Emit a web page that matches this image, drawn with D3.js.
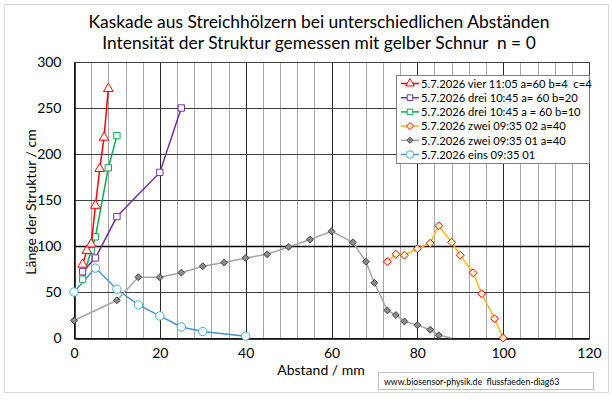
<!DOCTYPE html>
<html>
<head>
<meta charset="utf-8">
<script src="https://cdn.jsdelivr.net/npm/d3@7"></script>
<style>
  body { margin: 0; background: #fff; }
  svg { font-family: Lato, "Liberation Sans", sans-serif; }
</style>
</head>
<body>
<div id="chart"></div>
<script>
// chart data
const titleLines = [
    "Kaskade aus Streichhölzern bei unterschiedlichen Abständen",
    "Intensität der Struktur gemessen mit gelber Schnur  n = 0"
];
const xTicks = [0, 20, 40, 60, 80, 100, 120];
const yTicks = [0, 50, 100, 150, 200, 250, 300];
const seriesNames = [
    "5.7.2026 vier 11:05 a=60 b=4  c=4",
    "5.7.2026 drei 10:45 a= 60 b=20",
    "5.7.2026 drei 10:45 a = 60 b=10",
    "5.7.2026 zwei 09:35 02 a=40",
    "5.7.2026 zwei 09:35 01 a=40",
    "5.7.2026 eins 09:35 01"
];
const vierX = [2, 3, 4, 5, 6, 7, 8];
const vierY = [80, 95, 102, 144, 184, 218, 271];
const dreiBX = [2, 5, 10, 20, 25];
const dreiBY = [72, 87, 132, 180, 250];
const dreiAX = [2, 4, 5, 8, 10];
const dreiAY = [64, 95, 110, 185, 220];
const zwei02X = [73, 75, 77, 80, 83, 85, 88, 90, 93, 95, 98, 100];
const zwei02Y = [83, 91, 90, 97, 103, 122, 104, 90, 71, 48, 21, 0];
const zwei01X = [0, 10, 15, 20, 25, 30, 35, 40, 45, 50, 55, 60, 65, 68, 70, 73, 75, 77, 80, 83, 85, 88];
const zwei01Y = [19, 41, 66, 66, 71, 78, 82, 87, 91, 99, 107, 116, 104, 83, 60, 30, 25, 18, 14, 9, 3, 0];
const einsX = [0, 5, 10, 15, 20, 25, 30, 40];
const einsY = [50, 76, 53, 36, 24, 12, 7, 2];
const footer = "www.biosensor-physik.de  flussfaeden-diag63";

class ScatterChart {
    constructor(width, height) {
        this.width = width;
        this.height = height;
        this.left = 74;
        this.right = 589;
        this.top = 62;
        this.bottom = 338;
    }

    plot(element_id, series) {
        this.svg = d3.select(element_id).append("svg")
            .attr("width", this.width).attr("height", this.height);
        this._frame();
        this._setScale();
        this._addGrid();
        this._addAxis();
        // excel draws the last series first
        series.slice().reverse().forEach(s => this._addSeries(s));
        this._addLegend(series);
        this._addFooter();
    }

    _frame() {
        this.svg.append("rect")
            .attr("x", 4.5).attr("y", 4.5)
            .attr("width", 604).attr("height", 388)
            .attr("fill", "#fff").attr("stroke", "#d9d9d9");
        this.svg.selectAll("text.title")
            .data(titleLines)
            .enter().append("text")
            .attr("class", "title")
            .attr("x", 319).attr("y", (d, i) => 28 + i * 21)
            .attr("text-anchor", "middle")
            .attr("font-size", 17.4)
            .attr("fill", "#000")
            .attr("xml:space", "preserve")
            .text(d => d);
    }

    _setScale() {
        this.xScale = d3.scaleLinear().domain([0, 120]).range([this.left, this.right]);
        this.yScale = d3.scaleLinear().domain([0, 300]).range([this.bottom, this.top]);
    }

    _addGrid() {
        let x = this.xScale, y = this.yScale;
        let g = this.svg.append("g");
        let minor = d3.range(4, 120, 4).filter(v => v % 20 != 0);
        g.selectAll("line.minor").data(minor).enter().append("line")
            .attr("x1", d => Math.round(x(d)) + 0.5).attr("x2", d => Math.round(x(d)) + 0.5)
            .attr("y1", this.top).attr("y2", this.bottom)
            .attr("stroke", "#a6a6a6");
        g.selectAll("line.major").data(xTicks.slice(1, -1)).enter().append("line")
            .attr("x1", d => Math.round(x(d)) + 0.5).attr("x2", d => Math.round(x(d)) + 0.5)
            .attr("y1", this.top).attr("y2", this.bottom)
            .attr("stroke", "#262626");
        g.selectAll("line.h").data(yTicks.slice(1, -1)).enter().append("line")
            .attr("x1", this.left).attr("x2", this.right)
            .attr("y1", d => Math.round(y(d)) + 0.5).attr("y2", d => Math.round(y(d)) + 0.5)
            .attr("stroke", d => d == 100 ? "#000" : "#404040")
            .attr("stroke-width", d => d == 100 ? 1.5 : 1);
        g.append("rect")
            .attr("x", this.left + 0.5).attr("y", this.top + 0.5)
            .attr("width", this.right - this.left).attr("height", this.bottom - this.top)
            .attr("fill", "none").attr("stroke", "#404040");
    }

    _addAxis() {
        let xAxis = this.svg.append("g")
            .attr("transform", "translate(0," + (this.bottom + 0.5) + ")")
            .call(d3.axisBottom(this.xScale).tickValues(xTicks).tickSize(0).tickPadding(10));
        let yAxis = this.svg.append("g")
            .attr("transform", "translate(" + (this.left + 0.5) + ",0)")
            .call(d3.axisLeft(this.yScale).tickValues(yTicks).tickSize(0).tickPadding(13));
        [xAxis, yAxis].forEach(a => {
            a.select(".domain").attr("stroke", "#000").attr("stroke-width", 1.5);
            a.selectAll("text").attr("font-size", 14).attr("font-family", "Lato").attr("fill", "#000");
        });
        this.svg.append("text")
            .attr("x", 321).attr("y", 375)
            .attr("text-anchor", "middle").attr("font-size", 14)
            .text("Abstand / mm");
        this.svg.append("text")
            .attr("transform", "translate(36,202) rotate(-90)")
            .attr("text-anchor", "middle").attr("font-size", 14)
            .text("Länge der Struktur / cm");
    }

    _symbol(sel, s, size) {
        sel.attr("d", d3.symbol().type(s.shape).size(size))
            .attr("fill", s.fill).attr("stroke", s.stroke).attr("stroke-width", 1);
    }

    _addSeries(s) {
        let x = this.xScale, y = this.yScale;
        let pts = s.xs.map((v, i) => [v, s.ys[i]]);
        let g = this.svg.append("g");
        g.append("path")
            .datum(pts)
            .attr("d", d3.line().x(d => x(d[0])).y(d => y(d[1])))
            .attr("fill", "none").attr("stroke", s.line).attr("stroke-width", 1.5);
        let marked = s.skipLast ? pts.slice(0, -1) : pts;
        g.selectAll("path.m").data(marked).enter().append("path")
            .attr("class", "m")
            .attr("transform", d => "translate(" + x(d[0]) + "," + y(d[1]) + ")")
            .call(sel => this._symbol(sel, s, s.size));
    }

    _addLegend(series) {
        let g = this.svg.append("g");
        g.append("rect")
            .attr("x", 396.5).attr("y", 75.5).attr("width", 193).attr("height", 88)
            .attr("fill", "#fff").attr("stroke", "#7f7f7f");
        series.forEach((s, i) => {
            let cy = 83.5 + i * 14.2;
            g.append("line")
                .attr("x1", 401).attr("x2", 419).attr("y1", cy).attr("y2", cy)
                .attr("stroke", s.line).attr("stroke-width", 1.5);
            g.append("path")
                .attr("transform", "translate(410," + cy + ")")
                .call(sel => this._symbol(sel, s, s.size * 0.8));
            g.append("text")
                .attr("x", 421).attr("y", cy + 4.2)
                .attr("font-size", 11.2).attr("fill", "#000")
                .attr("xml:space", "preserve")
                .text(s.name);
        });
    }

    _addFooter() {
        this.svg.append("rect")
            .attr("x", 378.5).attr("y", 372.5).attr("width", 215).attr("height", 17)
            .attr("fill", "#fff").attr("stroke", "#bfbfbf");
        this.svg.append("text")
            .attr("x", 384).attr("y", 384.5)
            .attr("font-size", 8.7).attr("fill", "#000")
            .attr("xml:space", "preserve")
            .text(footer);
    }
}

const series = [
    { name: seriesNames[0], xs: vierX, ys: vierY, line: "#ff0000", stroke: "#ff0000", fill: "#fff", shape: d3.symbolTriangle, size: 40 },
    { name: seriesNames[1], xs: dreiBX, ys: dreiBY, line: "#7030a0", stroke: "#7030a0", fill: "#fff", shape: d3.symbolSquare, size: 40 },
    { name: seriesNames[2], xs: dreiAX, ys: dreiAY, line: "#00b050", stroke: "#00b050", fill: "#fff", shape: d3.symbolSquare, size: 40 },
    { name: seriesNames[3], xs: zwei02X, ys: zwei02Y, line: "#ffb81c", stroke: "#ff0000", fill: "#fff2cc", shape: d3.symbolDiamond2, size: 40 },
    { name: seriesNames[4], xs: zwei01X, ys: zwei01Y, line: "#a6a6a6", stroke: "#404040", fill: "#8c8c8c", shape: d3.symbolDiamond2, size: 30, skipLast: true },
    { name: seriesNames[5], xs: einsX, ys: einsY, line: "#4a90d0", stroke: "#3fa9dc", fill: "#fff", shape: d3.symbolCircle, size: 55 }
];

let chart = new ScatterChart(612, 400);
chart.plot("#chart", series);
</script>
</body>
</html>
